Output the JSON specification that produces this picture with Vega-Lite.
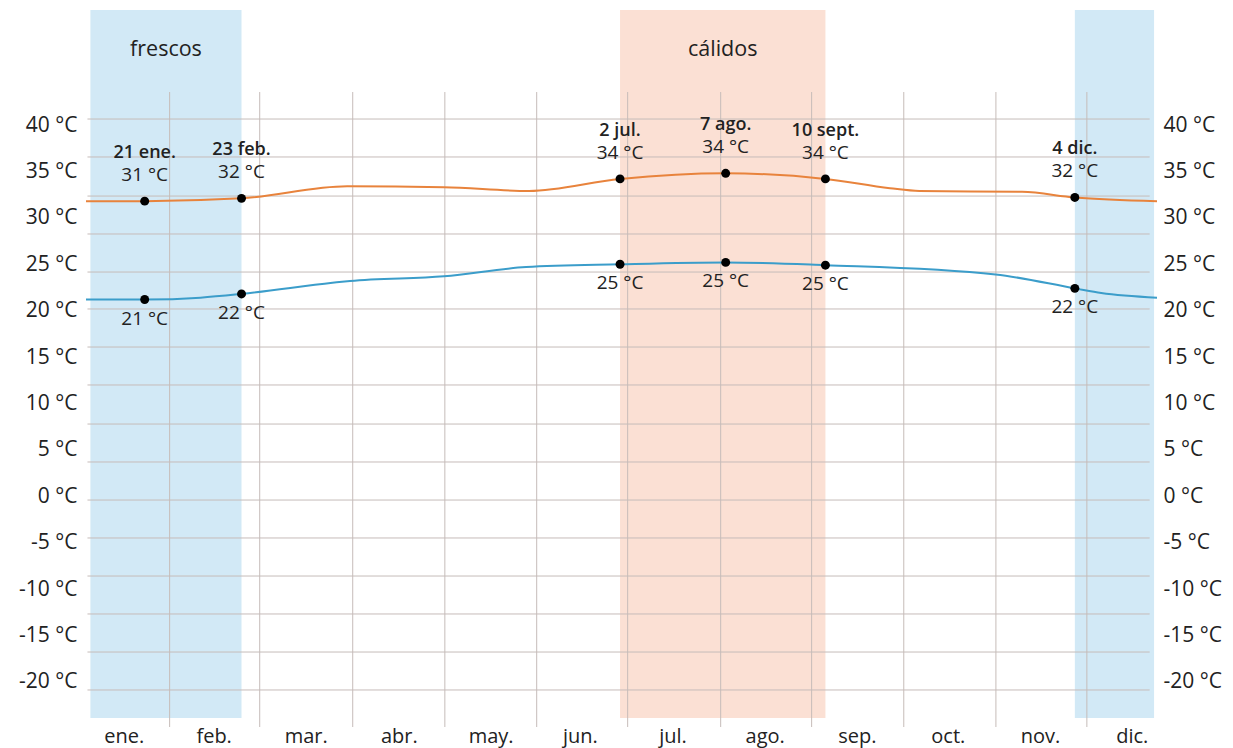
{
  "$schema": "https://vega.github.io/schema/vega-lite/v6.json",
  "width": 1071,
  "height": 708,
  "autosize": {"type": "none"},
  "padding": {"left": 86, "top": 10, "right": 76, "bottom": 30},
  "background": "white",
  "config": {"view": {"stroke": null}, "font": "Open Sans", "text": {"font": "Open Sans", "color": "#222222"}},
  "datasets": {
    "bands": [
      {"from": 1.5, "to": 53, "name": "frescos", "kind": "cold"},
      {"from": 182, "to": 252, "name": "cálidos", "kind": "warm"},
      {"from": 337, "to": 364, "name": "", "kind": "cold"}
    ],
    "vgrid": [{"d": 28.5}, {"d": 59.2}, {"d": 90.9}, {"d": 122.3}, {"d": 153.6}, {"d": 184.6}, {"d": 216.3}, {"d": 247.3}, {"d": 278.7}, {"d": 310.1}, {"d": 341.1}],
    "hgrid": [{"t": 40.65}, {"t": 36.56}, {"t": 32.35}, {"t": 28.26}, {"t": 24.16}, {"t": 20.18}, {"t": 16.08}, {"t": 11.99}, {"t": 7.78}, {"t": 3.69}, {"t": -0.41}, {"t": -4.5}, {"t": -8.6}, {"t": -12.69}, {"t": -16.79}, {"t": -20.88}],
    "hi": [
      {"d": 0, "t": 31.8}, {"d": 20, "t": 31.8}, {"d": 53, "t": 32.1}, {"d": 89, "t": 33.4}, {"d": 122, "t": 33.3},
      {"d": 151, "t": 32.9}, {"d": 182, "t": 34.2}, {"d": 218, "t": 34.8}, {"d": 252, "t": 34.2}, {"d": 274, "t": 33.2},
      {"d": 284, "t": 32.9}, {"d": 319, "t": 32.8}, {"d": 337, "t": 32.2}, {"d": 365, "t": 31.8}
    ],
    "lo": [
      {"d": 0, "t": 21.2}, {"d": 20, "t": 21.2}, {"d": 39, "t": 21.4}, {"d": 53, "t": 21.8}, {"d": 84, "t": 23.0},
      {"d": 90, "t": 23.2}, {"d": 122, "t": 23.7}, {"d": 150, "t": 24.7}, {"d": 182, "t": 25.0}, {"d": 218, "t": 25.2},
      {"d": 252, "t": 24.9}, {"d": 310, "t": 23.9}, {"d": 337, "t": 22.4}, {"d": 346, "t": 21.9}, {"d": 365, "t": 21.4}
    ],
    "marks": [
      {"d": 20, "hi": 31.8, "lo": 21.2, "date": "21 ene.", "hiL": "31 °C", "loL": "21 °C"},
      {"d": 53, "hi": 32.1, "lo": 21.8, "date": "23 feb.", "hiL": "32 °C", "loL": "22 °C"},
      {"d": 182, "hi": 34.2, "lo": 25.0, "date": "2 jul.", "hiL": "34 °C", "loL": "25 °C"},
      {"d": 218, "hi": 34.8, "lo": 25.2, "date": "7 ago.", "hiL": "34 °C", "loL": "25 °C"},
      {"d": 252, "hi": 34.2, "lo": 24.9, "date": "10 sept.", "hiL": "34 °C", "loL": "25 °C"},
      {"d": 337, "hi": 32.2, "lo": 22.4, "date": "4 dic.", "hiL": "32 °C", "loL": "22 °C"}
    ]
  },
  "layer": [
    {
      "data": {"name": "bands"},
      "mark": {"type": "rect"},
      "encoding": {
        "x": {"field": "from", "type": "quantitative", "scale": {"domain": [0, 365], "nice": false, "zero": false}, "axis": null},
        "x2": {"field": "to"},
        "color": {"field": "kind", "type": "nominal", "scale": {"domain": ["cold", "warm"], "range": ["#d2e9f6", "#fbe0d4"]}, "legend": null}
      }
    },
    {
      "data": {"name": "bands"},
      "transform": [{"calculate": "(datum.from + datum.to) / 2", "as": "mid"}],
      "mark": {"type": "text", "fontSize": 21.5, "baseline": "middle", "align": "center"},
      "encoding": {
        "x": {"field": "mid", "type": "quantitative", "scale": {"domain": [0, 365], "nice": false, "zero": false}, "axis": null},
        "y": {"datum": 48.1, "type": "quantitative", "scale": {"domain": [-23.9, 52.4], "nice": false, "zero": false}, "axis": null},
        "text": {"field": "name"}
      }
    },
    {
      "data": {"name": "vgrid"},
      "mark": {"type": "rule", "color": "#c6bcb9", "strokeWidth": 1},
      "encoding": {
        "x": {"field": "d", "type": "quantitative", "scale": {"domain": [0, 365], "nice": false, "zero": false}, "axis": null},
        "y": {"datum": 43.56, "type": "quantitative", "scale": {"domain": [-23.9, 52.4], "nice": false, "zero": false}, "axis": null},
        "y2": {"datum": -24.87}
      }
    },
    {
      "data": {"name": "hgrid"},
      "mark": {"type": "rule", "color": "#c6bcb9", "strokeWidth": 1},
      "encoding": {
        "y": {"field": "t", "type": "quantitative", "scale": {"domain": [-23.9, 52.4], "nice": false, "zero": false}, "axis": null},
        "x": {"datum": 0.5, "type": "quantitative", "scale": {"domain": [0, 365], "nice": false, "zero": false}, "axis": null},
        "x2": {"datum": 362.5}
      }
    },
    {
      "data": {"name": "hi"},
      "mark": {"type": "line", "color": "#e8833c", "strokeWidth": 2, "interpolate": "monotone"},
      "encoding": {
        "x": {"field": "d", "type": "quantitative", "scale": {"domain": [0, 365], "nice": false, "zero": false},
          "axis": {"orient": "bottom", "values": [12.9, 43.5, 74.9, 106.6, 137.9, 168.3, 199.9, 231.3, 262.7, 293.7, 325.1, 356.4],
            "labelExpr": "['ene.','feb.','mar.','abr.','may.','jun.','jul.','ago.','sep.','oct.','nov.','dic.'][floor(datum.value / 30.5)]",
            "grid": false, "ticks": false, "domain": false, "labelFont": "Open Sans", "labelFontSize": 20, "labelColor": "#222222", "labelPadding": 8, "title": null, "labelFlush": false, "labelOverlap": false}},
        "y": {"field": "t", "type": "quantitative", "scale": {"domain": [-23.9, 52.4], "nice": false, "zero": false},
          "axis": {"orient": "left", "values": [-20, -15, -10, -5, 0, 5, 10, 15, 20, 25, 30, 35, 40], "labelExpr": "datum.value + ' °C'",
            "grid": false, "ticks": false, "domain": false, "labelFont": "Open Sans", "labelFontSize": 21, "labelColor": "#222222", "labelPadding": 9, "title": null, "labelFlush": false, "labelOverlap": false}}
      }
    },
    {
      "data": {"name": "lo"},
      "mark": {"type": "line", "color": "#3b9dca", "strokeWidth": 2, "interpolate": "monotone"},
      "encoding": {
        "x": {"field": "d", "type": "quantitative", "scale": {"domain": [0, 365], "nice": false, "zero": false}, "axis": null},
        "y": {"field": "t", "type": "quantitative", "scale": {"domain": [-23.9, 52.4], "nice": false, "zero": false},
          "axis": {"orient": "right", "values": [-20, -15, -10, -5, 0, 5, 10, 15, 20, 25, 30, 35, 40], "labelExpr": "datum.value + ' °C'",
            "grid": false, "ticks": false, "domain": false, "labelFont": "Open Sans", "labelFontSize": 21, "labelColor": "#222222", "labelPadding": 6, "title": null, "labelFlush": false, "labelOverlap": false}}
      }
    },
    {
      "data": {"name": "marks"},
      "mark": {"type": "point", "filled": true, "color": "#000000", "size": 80, "opacity": 1},
      "encoding": {
        "x": {"field": "d", "type": "quantitative", "scale": {"domain": [0, 365], "nice": false, "zero": false}, "axis": null},
        "y": {"field": "hi", "type": "quantitative", "scale": {"domain": [-23.9, 52.4], "nice": false, "zero": false}, "axis": null}
      }
    },
    {
      "data": {"name": "marks"},
      "mark": {"type": "point", "filled": true, "color": "#000000", "size": 80, "opacity": 1},
      "encoding": {
        "x": {"field": "d", "type": "quantitative", "scale": {"domain": [0, 365], "nice": false, "zero": false}, "axis": null},
        "y": {"field": "lo", "type": "quantitative", "scale": {"domain": [-23.9, 52.4], "nice": false, "zero": false}, "axis": null}
      }
    },
    {
      "data": {"name": "marks"},
      "mark": {"type": "text", "fontSize": 18, "fontWeight": 600, "baseline": "alphabetic", "align": "center", "dy": -43},
      "encoding": {
        "x": {"field": "d", "type": "quantitative", "scale": {"domain": [0, 365], "nice": false, "zero": false}, "axis": null},
        "y": {"field": "hi", "type": "quantitative", "scale": {"domain": [-23.9, 52.4], "nice": false, "zero": false}, "axis": null},
        "text": {"field": "date"}
      }
    },
    {
      "data": {"name": "marks"},
      "mark": {"type": "text", "fontSize": 19, "baseline": "alphabetic", "align": "center", "dy": -20},
      "encoding": {
        "x": {"field": "d", "type": "quantitative", "scale": {"domain": [0, 365], "nice": false, "zero": false}, "axis": null},
        "y": {"field": "hi", "type": "quantitative", "scale": {"domain": [-23.9, 52.4], "nice": false, "zero": false}, "axis": null},
        "text": {"field": "hiL"}
      }
    },
    {
      "data": {"name": "marks"},
      "mark": {"type": "text", "fontSize": 19, "baseline": "alphabetic", "align": "center", "dy": 25},
      "encoding": {
        "x": {"field": "d", "type": "quantitative", "scale": {"domain": [0, 365], "nice": false, "zero": false}, "axis": null},
        "y": {"field": "lo", "type": "quantitative", "scale": {"domain": [-23.9, 52.4], "nice": false, "zero": false}, "axis": null},
        "text": {"field": "loL"}
      }
    }
  ],
  "resolve": {"axis": {"x": "independent", "y": "independent"}}
}
